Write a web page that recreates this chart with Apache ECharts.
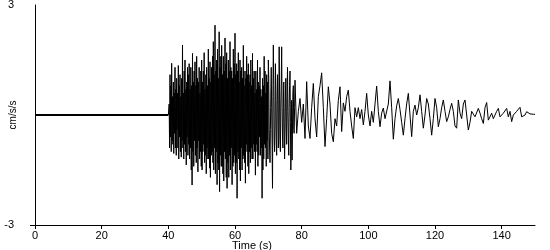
<!DOCTYPE html>
<html>
<head>
<meta charset="utf-8">
<script src="https://cdn.jsdelivr.net/npm/echarts@6/dist/echarts.min.js"></script>
<style>
html,body{margin:0;padding:0;background:#fff;}
#chart{width:550px;height:250px;}
</style>
</head>
<body>
<div id="chart"></div>
<script>
// ---- data ----
const xTickLabels = [0, 20, 40, 60, 80, 100, 120, 140];
const yTickLabels = [-3, 3];
const yAxisTitle = 'cm/s/s';
const xAxisTitle = 'Time (s)';

// quiet part before the arrival (s, cm/s/s)
const quietTimes = [0, 40];
const quietValues = [0, 0];

// strong shaking: samples every 0.125 s starting at 40 s
const strongStart = 40;
const strongStep = 0.125;
const strongValues = [
  0, 0, 0.3, -0.9, 1.1, -0.6, 0.8, -1.0, 1.41, -0.7, 0.5, -0.8, 0.9, -1.05, 0.6, -0.5,
  1.3, -0.9, 0.7, -1.1, 1.0, -0.4, 0.6, -0.9, 1.35, -1.2, 0.8, -0.6, 1.1, -1.0, 0.5, -1.15,
  1.0, -0.7, 1.91, -0.9, 0.6, -1.2, 1.2, -0.8, 1.5, -1.0, 0.7, -1.36, 0.9, -0.6, 1.3, -1.1,
  1.1, -0.8, 1.4, -1.2, 0.7, -0.9, 1.3, -1.5, 0.8, -1.91, 1.68, -1.0, 0.9, -1.4, 1.2, -0.7,
  1.45, -1.1, 0.8, -1.3, 1.6, -0.9, 1.0, -1.55, 0.9, -0.7, 1.3, -1.2, 0.6, -1.0, 1.2, -1.4,
  1.5, -1.5, 0.9, -1.0, 1.2, -0.8, 1.7, -1.3, 0.7, -1.1, 1.1, -1.6, 1.3, -0.9, 0.8, -1.2,
  1.8, -1.2, 1.0, -1.45, 1.45, -1.7, 0.9, -1.1, 1.3, -1.0, 1.6, -1.3, 2.0, -1.5, 1.1, -0.9,
  2.45, -1.6, 1.2, -1.0, 1.5, -1.9, 1.8, -1.3, 1.0, -1.5, 2.27, -2.09, 1.3, -1.1, 1.6, -1.4,
  1.9, -1.4, 1.1, -1.6, 1.6, -1.8, 1.2, -1.0, 2.1, -1.2, 1.4, -1.7, 1.7, -2.0, 1.0, -1.3,
  1.5, -1.7, 1.2, -1.1, 2.0, -1.5, 1.3, -0.9, 1.2, -1.9, 1.0, -1.4, 1.8, -1.3, 1.4, -1.1,
  2.23, -1.6, 1.1, -1.3, 1.4, -2.27, 1.2, -1.0, 1.7, -1.2, 0.9, -1.5, 1.5, -1.8, 1.2, -0.9,
  1.3, -1.5, 1.0, -1.2, 1.9, -1.1, 0.8, -1.3, 1.2, -1.86, 1.0, -0.8, 1.6, -1.0, 1.1, -1.4,
  1.4, -1.6, 0.9, -1.0, 1.1, -1.3, 1.5, -0.9, 0.8, -1.2, 1.68, -1.2, 1.0, -0.8, 1.2, -1.0,
  0.6, -1.64, 1.2, -0.8, 0.7, -1.0, 1.5, -1.4, 0.9, -1.1, 0.8, -0.6, 1.3, -1.1, 0.7, -0.9,
  0.5, -2.27, 1.0, -1.5, 0.8, -1.2, 1.6, -0.8, 1.2, -0.9, 0.6, -1.4, 1.1, -0.7, 0.9, -1.2,
  1.5, 1.0, -0.3, -0.9, -1.3, -0.4, 0.6, 1.3, 0.2, -0.8, -2.0, 0.5, 1.91, 0.8, -0.6, -1.0,
  -0.3, 1.4, 0.7, -0.7, -1.1, 0.2, 1.1, 0.4, -0.9, -0.6, 1.86, 0.6, -0.8, -1.0, 0.3, 0.9,
  1.86, 0.2, -0.6, -0.9, 0.3, 0.9, -0.2, -1.2, -0.5, 0.6, 1.0, -0.3, -0.8, 0.5, 1.3, 0.1,
  -0.6, -1.1, 0.2, 0.8, 1.2, -0.2, -1.5, -0.6, 0.4, -1.23, -0.3, 0.6, 0.8, -0.4, -0.5, 0.2
];

// coda: samples every 0.5 s starting at 78 s
const codaStart = 78;
const codaStep = 0.5;
const codaValues = [
  0.95, -0.5, 0.1, 0.45, -0.2, 0.3, -0.64, 0.91,
  -0.3, -0.64, 0.2, 0.86, -0.1, -0.6, 0.5, 0.8,
  1.15, 0.2, -0.86, -0.1, 0.77, 0.3, -0.5, -0.73,
  -0.1, -0.3, 0.4, 0.77, -0.45, 0.33, 0.1, 0.5,
  0.68, 0.1, -0.3, -0.64, 0.2, -0.05, 0.2, -0.1,
  0.15, -0.27, 0.1, 0.59, 0.0, -0.3, 0.1, -0.2,
  0.3, 0.79, 0.1, -0.32, 0.05, 0.19, -0.1, -0.15,
  0.3, 0.93, 0.2, -0.66, -0.1, 0.25, 0.45, 0.15,
  -0.2, -0.55, -0.1, 0.3, 0.59, 0.0, -0.59, 0.1,
  0.27, 0.0, 0.2, 0.55, 0.1, -0.36, 0.0, 0.45,
  0.3, -0.1, -0.55, -0.1, 0.45, 0.2, -0.32, -0.1,
  0.2, 0.41, 0.1, -0.18, -0.05, 0.15, 0.32, 0.1,
  -0.3, -0.36, 0.41, 0.05, -0.1, 0.3, 0.41, 0.0,
  -0.41, -0.2, 0.1, 0.14, -0.05, -0.1, 0.18, 0.05,
  -0.1, -0.23, 0.2, 0.34, -0.14, -0.05, 0.05, -0.1,
  0.0, 0.1, 0.18, -0.05, -0.1, 0.05, 0.1, 0.18,
  -0.05, 0.1, -0.18, 0.0, 0.05, 0.1, 0.15, 0.21,
  -0.05, -0.09, 0.0, 0.09, 0.05, 0.03, 0.02, 0.02,
  0.02
];

// ---- build series data from sample records ----
const quietData = quietTimes.map((t, i) => [t, quietValues[i]]);
const motionData = [];
strongValues.forEach((v, i) => motionData.push([strongStart + i * strongStep, v]));
codaValues.forEach((v, i) => motionData.push([codaStart + i * codaStep, v]));

const FONT = '"Liberation Sans", Arial, sans-serif';

const chart = echarts.init(document.getElementById('chart'), null, {renderer: 'canvas'});
chart.setOption({
  animation: false,
  backgroundColor: '#ffffff',
  grid: {left: 35, right: 15, top: 5, bottom: 25, containLabel: false, outerBoundsMode: 'none'},
  xAxis: {
    type: 'value',
    min: 0,
    max: 150,
    interval: 20,
    axisLine: {show: true, onZero: false, lineStyle: {color: '#000', width: 1}},
    axisTick: {show: true, length: 4, lineStyle: {color: '#000'}, customValues: xTickLabels},
    axisLabel: {color: '#000', fontFamily: FONT, fontSize: 11, margin: 5, customValues: xTickLabels},
    splitLine: {show: false}
  },
  yAxis: {
    type: 'value',
    min: -3,
    max: 3,
    interval: 6,
    name: yAxisTitle,
    nameLocation: 'middle',
    nameGap: 17,
    nameRotate: 90,
    nameMoveOverlap: false,
    nameTextStyle: {color: '#000', fontFamily: FONT, fontSize: 10},
    axisLine: {show: true, onZero: false, lineStyle: {color: '#000', width: 1}},
    axisTick: {show: true, length: 5, lineStyle: {color: '#000'}, customValues: [yTickLabels[0]]},
    axisLabel: {color: '#000', fontFamily: FONT, fontSize: 11, margin: 21, customValues: yTickLabels},
    splitLine: {show: false}
  },
  graphic: [{
    type: 'text',
    left: 232,
    top: 240,
    style: {text: xAxisTitle, fill: '#000', font: '11px ' + FONT}
  }],
  series: [
    {
      type: 'line',
      data: quietData,
      showSymbol: false,
      lineStyle: {color: '#000', width: 2},
      silent: true
    },
    {
      type: 'line',
      data: motionData,
      showSymbol: false,
      sampling: null,
      lineStyle: {color: '#000', width: 1},
      silent: true
    }
  ]
});
</script>
</body>
</html>
